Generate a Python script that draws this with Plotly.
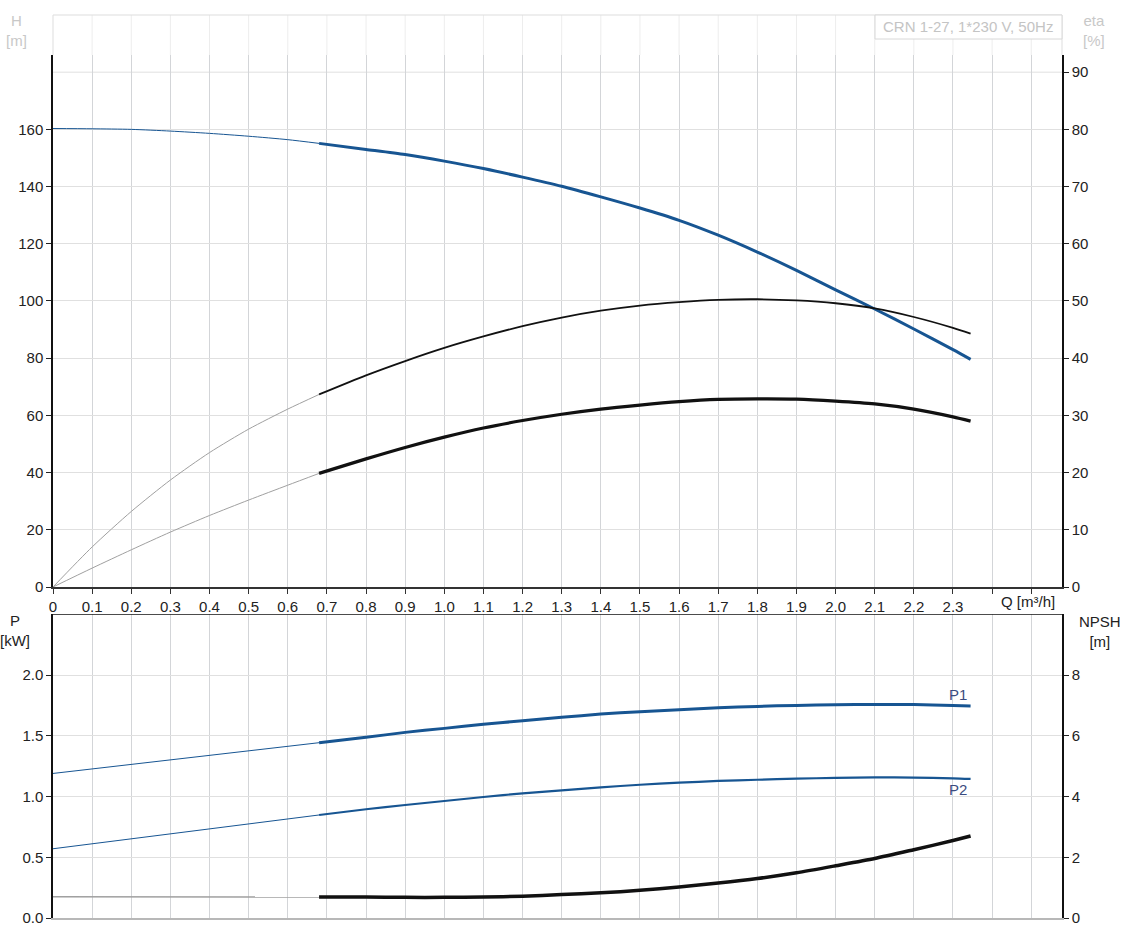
import plotly.graph_objects as go

# ---------------- data ----------------
Q_thin = [0, 0.1, 0.2, 0.3, 0.4, 0.5, 0.6, 0.68]
Q_thick = [0.68, 0.8, 0.9, 1.0, 1.1, 1.2, 1.3, 1.4, 1.5, 1.6, 1.7, 1.8,
           1.9, 2.0, 2.1, 2.2, 2.3, 2.345]
Q_lin = [0, 0.68]

H_thin = [160.3, 160.2, 160.0, 159.4, 158.6, 157.6, 156.4, 155.1]
H_thick = [155.1, 153.0, 151.2, 148.9, 146.3, 143.3, 140.1, 136.4, 132.5,
           128.2, 123.0, 117.1, 110.7, 103.9, 97.2, 90.2, 83.0, 79.6]

eta1_thin = [0, 7.0, 13.2, 18.7, 23.5, 27.6, 31.1, 33.66]
eta1_thick = [33.66, 37.0, 39.5, 41.8, 43.8, 45.6, 47.1, 48.3, 49.2, 49.8,
              50.2, 50.3, 50.1, 49.6, 48.7, 47.2, 45.3, 44.3]

eta2_thin = [0, 3.3, 6.5, 9.6, 12.5, 15.2, 17.8, 19.86]
eta2_thick = [19.86, 22.4, 24.4, 26.2, 27.8, 29.1, 30.2, 31.1, 31.8, 32.4,
              32.8, 32.9, 32.85, 32.5, 32.0, 31.1, 29.75, 29.0]

P1_lin = [1.19, 1.443]
P1_thick = [1.443, 1.487, 1.528, 1.561, 1.594, 1.624, 1.652, 1.679, 1.698,
            1.714, 1.731, 1.742, 1.750, 1.755, 1.758, 1.757, 1.750, 1.745]

P2_lin = [0.57, 0.848]
P2_thick = [0.848, 0.895, 0.930, 0.963, 0.996, 1.026, 1.051, 1.076, 1.097,
            1.114, 1.128, 1.138, 1.147, 1.153, 1.157, 1.156, 1.150, 1.145]

NPSH_lin = [0.70, 0.69]
NPSH_thick = [0.69, 0.69, 0.68, 0.68, 0.69, 0.72, 0.77, 0.83, 0.91, 1.02,
              1.15, 1.30, 1.49, 1.72, 1.96, 2.25, 2.55, 2.70]

Q_ticks = [round(i * 0.1, 1) for i in range(26)]
Q_ticklabels = ["0", "0.1", "0.2", "0.3", "0.4", "0.5", "0.6", "0.7", "0.8",
                "0.9", "1.0", "1.1", "1.2", "1.3", "1.4", "1.5", "1.6", "1.7",
                "1.8", "1.9", "2.0", "2.1", "2.2", "2.3", "", ""]
H_ticks = [0, 20, 40, 60, 80, 100, 120, 140, 160]
eta_ticks = [0, 10, 20, 30, 40, 50, 60, 70, 80, 90]
P_ticks = [0, 0.5, 1.0, 1.5, 2.0]
P_ticklabels = ["0.0", "0.5", "1.0", "1.5", "2.0"]
NPSH_ticks = [0, 2, 4, 6, 8]

title_text = "CRN 1-27, 1*230 V, 50Hz"

# ---------------- styling ----------------
BLUE = "#175592"
GRAY = "#a0a0a0"
BLACK = "#111111"
GRID_V = "#d3d5d8"
GRID_H = "#e0e0e0"
FONT = "Arial, Liberation Sans, sans-serif"
FS = 15

W, H = 1122, 938
L, R, T, B = 53, 60, 15, 20
PX_W = 1062 - 53   # plot area width
PX_H = 918 - 15    # plot area height
top_dom = [(918 - 587) / PX_H, (918 - 55) / PX_H]
bot_dom = [0, (918 - 614.3) / PX_H]
XMAX = 2.5786


def px_x(px):
    return (px - 53) / PX_W


def px_y(py):
    return (918 - py) / PX_H


fig = go.Figure()


def add(x, y, xa, ya, color, width):
    fig.add_trace(go.Scatter(x=x, y=y, xaxis=xa, yaxis=ya, mode="lines",
                             line=dict(color=color, width=width,
                                       shape="spline", smoothing=0.7),
                             hoverinfo="skip", showlegend=False))


# top panel
add(Q_thin, eta1_thin, "x", "y2", GRAY, 1)
add(Q_thin, eta2_thin, "x", "y2", GRAY, 1)
add(Q_thin, H_thin, "x", "y", BLUE, 1)
add(Q_thick, eta1_thick, "x", "y2", BLACK, 1.8)
add(Q_thick, eta2_thick, "x", "y2", BLACK, 3.2)
add(Q_thick, H_thick, "x", "y", BLUE, 3)

# bottom panel
add(Q_lin, P1_lin, "x2", "y3", BLUE, 1)
add(Q_lin, P2_lin, "x2", "y3", BLUE, 1)
add(Q_lin, NPSH_lin, "x2", "y4", GRAY, 1.5)
add(Q_thick, P1_thick, "x2", "y3", BLUE, 3)
add(Q_thick, P2_thick, "x2", "y3", BLUE, 2.2)
add(Q_thick, NPSH_thick, "x2", "y4", BLACK, 3.5)

tickfont = dict(family=FONT, size=FS, color="#222222")

shapes = []
# header faint vertical grid
for q in Q_ticks[1:]:
    shapes.append(dict(type="line", xref="x", yref="paper", x0=q, x1=q,
                       y0=top_dom[1], y1=1, line=dict(color="#ededed", width=1),
                       layer="below"))
# header border
shapes.append(dict(type="line", xref="paper", yref="paper", x0=0, x1=1, y0=1, y1=1,
                   line=dict(color="#dddddd", width=1)))
shapes.append(dict(type="line", xref="paper", yref="paper", x0=0, x1=0,
                   y0=top_dom[1], y1=1, line=dict(color="#dddddd", width=1)))
shapes.append(dict(type="line", xref="paper", yref="paper", x0=1, x1=1,
                   y0=top_dom[1], y1=1, line=dict(color="#dddddd", width=1)))
# title box
shapes.append(dict(type="rect", xref="paper", yref="paper", x0=px_x(875), x1=1,
                   y0=px_y(39), y1=1, fillcolor="white",
                   line=dict(color="#d8d8d8", width=1)))
# gridline at H=180 without tick
shapes.append(dict(type="line", xref="paper", yref="y", x0=0, x1=1, y0=180, y1=180,
                   line=dict(color=GRID_H, width=1), layer="below"))
# top border of lower panel
shapes.append(dict(type="line", xref="paper", yref="y3", x0=0, x1=1, y0=2.5, y1=2.5,
                   line=dict(color=BLACK, width=1.5)))


def ann(text, x, y, color, xref="paper", yref="paper"):
    return dict(text=text, xref=xref, yref=yref, x=x, y=y, showarrow=False,
                xanchor="center", yanchor="middle",
                font=dict(family=FONT, size=FS, color=color))


annotations = [
    ann(title_text, px_x(968), px_y(27), "#c4c4c4"),
    ann("H<br>[m]", px_x(16), px_y(31), "#c8c8c8"),
    ann("eta<br>[%]", px_x(1094), px_y(31), "#c8c8c8"),
    ann("P<br>[kW]", px_x(15), px_y(630), "#222222"),
    ann("NPSH<br>[m]", px_x(1100), px_y(631), "#222222"),
    ann("Q [m³/h]", px_x(1028), px_y(601), "#222222"),
    ann("P1", 2.312, 1.836, "#3a4b80", "x2", "y3"),
    ann("P2", 2.312, 1.056, "#3a4b80", "x2", "y3"),
]

fig.update_layout(
    width=W, height=H,
    margin=dict(l=L, r=R, t=T, b=B, pad=0, autoexpand=False),
    paper_bgcolor="white", plot_bgcolor="white",
    font=dict(family=FONT),
    showlegend=False,
    xaxis=dict(domain=[0, 1], anchor="y", range=[0, XMAX], tickvals=Q_ticks,
               ticktext=Q_ticklabels, ticks="outside", ticklen=5, tickcolor="#333",
               showline=True, linecolor="#333333", linewidth=1.5,
               showgrid=True, gridcolor=GRID_V, gridwidth=1, zeroline=False,
               tickfont=tickfont, automargin=False),
    yaxis=dict(domain=top_dom, anchor="x", range=[0, 186], tickvals=H_ticks,
               ticks="outside", ticklen=5, tickcolor="#222",
               showline=True, linecolor=BLACK, linewidth=1.5,
               showgrid=True, gridcolor=GRID_H, zeroline=False, tickfont=tickfont,
               automargin=False),
    yaxis2=dict(overlaying="y", side="right", anchor="x", range=[0, 93],
                tickvals=eta_ticks, ticks="outside", ticklen=5, tickcolor="#222",
                showline=True, linecolor=BLACK, linewidth=1.5,
                showgrid=False, zeroline=False, tickfont=tickfont, automargin=False),
    xaxis2=dict(domain=[0, 1], anchor="y3", range=[0, XMAX], tickvals=Q_ticks,
                showticklabels=False, ticks="",
                showline=True, linecolor="#b8b8b8", linewidth=2,
                showgrid=True, gridcolor=GRID_V, gridwidth=1, zeroline=False,
                automargin=False),
    yaxis3=dict(domain=bot_dom, anchor="x2", range=[0, 2.5], tickvals=P_ticks,
                ticktext=P_ticklabels, ticks="outside", ticklen=5, tickcolor="#222",
                showline=True, linecolor=BLACK, linewidth=1.5,
                showgrid=True, gridcolor=GRID_H, zeroline=False, tickfont=tickfont,
                automargin=False),
    yaxis4=dict(overlaying="y3", side="right", anchor="x2", range=[0, 10],
                tickvals=NPSH_ticks, ticks="outside", ticklen=5, tickcolor="#222",
                showline=True, linecolor=BLACK, linewidth=1.5,
                showgrid=False, zeroline=False, tickfont=tickfont, automargin=False),
    shapes=shapes,
    annotations=annotations,
)

# remove the default 8px body margin so the figure fills the window exactly
fig.write_html("out.html", config={"displayModeBar": False},
               post_script="document.body.style.margin='0';")
